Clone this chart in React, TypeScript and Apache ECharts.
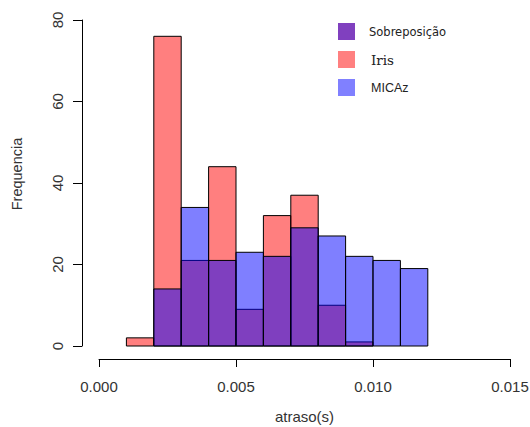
import React, { useEffect, useRef } from "react";
import * as echarts from "echarts";

// Histogram bin edges (seconds) and counts per bin
const binStarts = [0.001, 0.002, 0.003, 0.004, 0.005, 0.006, 0.007, 0.008, 0.009, 0.01, 0.011];
const binWidth = 0.001;
const irisCounts = [2, 76, 21, 44, 9, 32, 37, 10, 1, 0, 0];
const micazCounts = [0, 14, 34, 21, 23, 22, 29, 27, 22, 21, 19];

const legendNames = ["Sobreposição", "Iris", "MICAz"];
const xTicks = [0, 0.005, 0.01, 0.015];
const yTicks = [0, 20, 40, 60, 80];

const IRIS_FILL = "rgba(255,0,0,0.5)";
const MICAZ_FILL = "rgba(0,0,255,0.5)";

function toData(counts: number[]) {
  return binStarts.map((s, i) => [s, s + binWidth, counts[i]]);
}

function makeRender(fill: string) {
  return (params: any, api: any) => {
    const x0 = api.value(0);
    const x1 = api.value(1);
    const y = api.value(2);
    if (!y) return null;
    const p0 = api.coord([x0, y]);
    const p1 = api.coord([x1, 0]);
    return {
      type: "rect",
      shape: { x: p0[0], y: p0[1], width: p1[0] - p0[0], height: p1[1] - p0[1] },
      style: { fill, stroke: "#000", lineWidth: 1 },
    };
  };
}

export default function App() {
  const ref = useRef<HTMLDivElement>(null);
  useEffect(() => {
    document.body.style.margin = "0";
    const chart = echarts.init(ref.current!, null, { renderer: "svg" });
    const axisFont = "'Liberation Sans', Arial, sans-serif";
    chart.setOption({
      animation: false,
      backgroundColor: "#fff",
      grid: { left: 99, right: 20, top: 20, bottom: 81, containLabel: false, outerBoundsMode: "none" },
      legend: {
        orient: "vertical",
        left: 338,
        top: 23,
        padding: 0,
        itemWidth: 17,
        itemHeight: 17,
        itemGap: 11,
        selectedMode: false,
        icon: "rect",
        data: [
          {
            name: legendNames[0],
            itemStyle: { color: "#8040BF", borderWidth: 0 },
            textStyle: { fontFamily: "'DejaVu Sans', sans-serif", fontSize: 11.5, color: "#222", padding: [0, 0, 0, 9] },
          },
          {
            name: legendNames[1],
            itemStyle: { color: "#FF8080", borderWidth: 0 },
            textStyle: { fontFamily: "'DejaVu Serif', serif", fontSize: 13.5, color: "#222", padding: [0, 0, 0, 11] },
          },
          {
            name: legendNames[2],
            itemStyle: { color: "#8080FF", borderWidth: 0 },
            textStyle: { fontFamily: "'Liberation Sans', Arial, sans-serif", fontSize: 12.5, color: "#222", padding: [0, 0, 0, 11] },
          },
        ],
      },
      xAxis: {
        type: "value",
        min: xTicks[0],
        max: xTicks[xTicks.length - 1],
        interval: xTicks[1] - xTicks[0],
        offset: 13,
        axisLine: { show: true, onZero: false, lineStyle: { color: "#000", width: 1 } },
        axisTick: { show: true, length: 8, lineStyle: { color: "#000" } },
        splitLine: { show: false },
        axisLabel: {
          formatter: (v: number) => v.toFixed(3),
          color: "#333",
          fontSize: 15,
          fontFamily: axisFont,
          margin: 19.5,
        },
        name: "atraso(s)",
        nameLocation: "middle",
        nameGap: 50,
        nameTextStyle: { color: "#333", fontSize: 15, fontFamily: axisFont },
      },
      yAxis: {
        type: "value",
        min: yTicks[0],
        max: yTicks[yTicks.length - 1],
        interval: yTicks[1] - yTicks[0],
        offset: 17,
        axisLine: { show: true, onZero: false, lineStyle: { color: "#000", width: 1 } },
        axisTick: { show: true, length: 9, lineStyle: { color: "#000" } },
        splitLine: { show: false },
        axisLabel: {
          rotate: 90,
          color: "#333",
          fontSize: 15,
          fontFamily: axisFont,
          margin: 17,
        },
        name: "Frequencia",
        nameLocation: "middle",
        nameGap: 58,
        nameTextStyle: { color: "#333", fontSize: 14.5, fontFamily: axisFont, padding: [0, 0, 0, 18] },
      },
      series: [
        {
          name: legendNames[1],
          type: "custom",
          renderItem: makeRender(IRIS_FILL),
          encode: { x: [0, 1], y: 2 },
          data: toData(irisCounts),
          itemStyle: { color: "#FF8080" },
        },
        {
          name: legendNames[2],
          type: "custom",
          renderItem: makeRender(MICAZ_FILL),
          encode: { x: [0, 1], y: 2 },
          data: toData(micazCounts),
          itemStyle: { color: "#8080FF" },
        },
        {
          name: legendNames[0],
          type: "custom",
          renderItem: () => null,
          data: [],
          itemStyle: { color: "#8040BF" },
        },
      ],
    });
    return () => chart.dispose();
  }, []);
  return <div ref={ref} style={{ position: "fixed", left: 0, top: 0, width: 530, height: 427 }} />;
}
